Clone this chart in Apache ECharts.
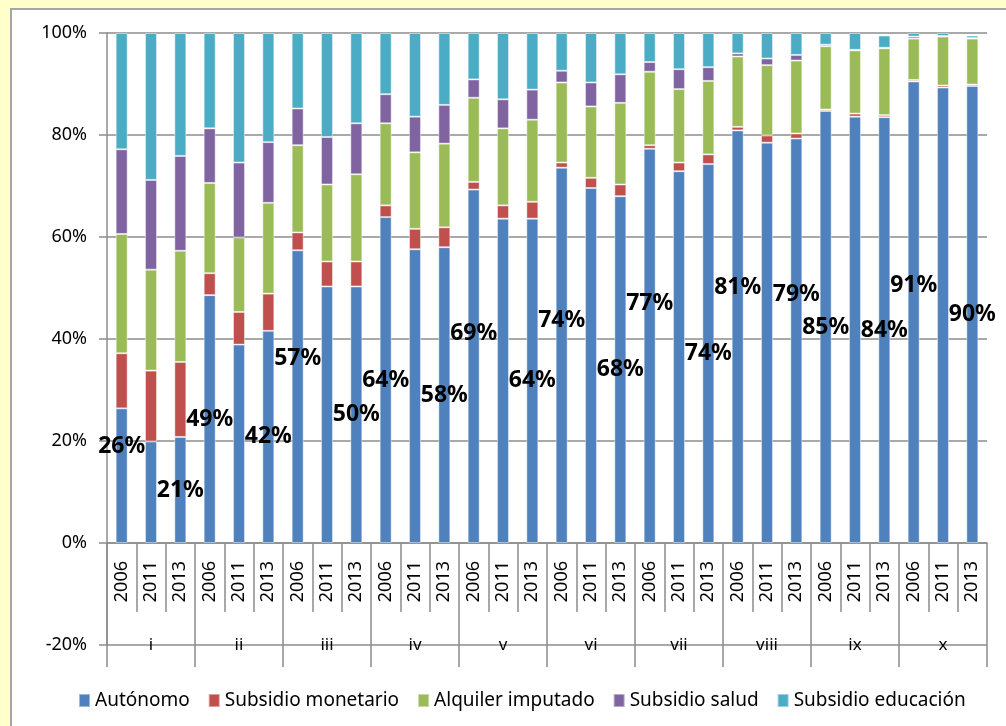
<!DOCTYPE html>
<html>
<head>
<meta charset="utf-8">
<script src="https://cdn.jsdelivr.net/npm/echarts@6/dist/echarts.min.js"></script>
<style>
    html, body { margin: 0; padding: 0; background: #ffffcc; }
    #panel { position: absolute; left: 10px; top: 8px; width: 1010px; height: 730px; background: #fff; border-left: 2px solid #a6a6a6; border-top: 2px solid #a6a6a6; }
    #main { position: absolute; left: 0; top: 0; width: 1006px; height: 726px; }
</style>
</head>
<body>
<div id="panel"></div>
<div id="main"></div>
<script>
// grupos y años (eje de categorías de dos niveles)
const groups = ['i', 'ii', 'iii', 'iv', 'v', 'vi', 'vii', 'viii', 'ix', 'x'];
const years = ['2006', '2011', '2013'];

// porcentaje de cada componente, 30 columnas (grupo x año)
const autonomo = [26.4, 19.9, 20.8, 48.6, 38.9, 41.6, 57.4, 50.3, 50.3, 63.9, 57.6, 58.0, 69.3, 63.6, 63.6,
                  73.6, 69.6, 68.0, 77.3, 72.9, 74.3, 80.9, 78.5, 79.3, 84.7, 83.6, 83.5, 90.5, 89.3, 89.6];
const subsidioMonetario = [10.8, 13.9, 14.7, 4.3, 6.4, 7.3, 3.5, 4.9, 4.9, 2.3, 4.0, 3.9, 1.5, 2.6, 3.3,
                  1.0, 2.0, 2.3, 0.7, 1.7, 1.9, 0.7, 1.4, 1.0, 0.3, 0.6, 0.4, 0.3, 0.4, 0.3];
const alquilerImputado = [23.4, 19.8, 21.8, 17.7, 14.6, 17.8, 17.1, 15.1, 17.1, 16.1, 15.0, 16.4, 16.5, 15.1, 16.1,
                  15.7, 14.0, 16.0, 14.4, 14.4, 14.4, 13.8, 13.8, 14.3, 12.4, 12.4, 13.1, 8.1, 9.6, 9.0];
const subsidioSalud = [16.6, 17.6, 18.6, 10.7, 14.7, 11.9, 7.2, 9.3, 10.0, 5.7, 7.0, 7.6, 3.6, 5.7, 5.9,
                  2.3, 4.7, 5.6, 1.9, 3.9, 2.7, 0.6, 1.3, 1.1, 0.3, 0.1, 0.1, 0.4, 0.1, 0.1];
const subsidioEducacion = [22.8, 28.8, 24.1, 18.7, 25.4, 21.4, 14.8, 20.4, 17.7, 12.0, 16.4, 14.1, 9.1, 13.0, 11.1,
                  7.4, 9.7, 8.1, 5.7, 7.1, 6.7, 4.0, 5.0, 4.3, 2.3, 3.3, 2.4, 0.7, 0.6, 0.5];

// etiquetas movidas a mano en el original (puntos porcentuales por encima del centro)
const labelLift = [5.7, 0, 0, 0, 0, 0, 7.4, 0, 0, 0, 0, 0, 6.4, 0, 0,
                   6.8, 0, 0, 8.3, 0, 0, 9.7, 0, 9.0, 0, 0, 0, 5.2, 0, 0];

const seriesNames = ['Autónomo', 'Subsidio monetario', 'Alquiler imputado', 'Subsidio salud', 'Subsidio educación'];
const colors = ['#4f81bd', '#c0504d', '#9bbb59', '#8064a2', '#4bacc6'];

const categories = [];
groups.forEach(function () { years.forEach(function (y) { categories.push(y); }); });

const gridTop = 33, gridBottom = 81;
const yMin = -20, yMax = 100;
const pxPerPoint = (726 - gridTop - gridBottom) / (yMax - yMin);
const gray = '#8c8c8c';
const font = 'Noto Sans';

// solo 2006 y 2013 llevan etiqueta
const autonomoData = autonomo.map(function (v, i) {
    return {
        value: v,
        label: {
            show: categories[i] !== '2011',
            offset: [0, -labelLift[i] * pxPerPoint]
        }
    };
});

const seriesData = [autonomoData, subsidioMonetario, alquilerImputado, subsidioSalud, subsidioEducacion];

const myChart = echarts.init(document.getElementById('main'));
myChart.setOption({
    animation: false,
    textStyle: { fontFamily: font },
    color: colors,
    legend: {
        top: 686,
        left: 73,
        itemWidth: 11,
        itemHeight: 13,
        itemGap: 18,
        icon: 'rect',
        textStyle: { fontSize: 19, color: '#000', fontFamily: font },
        data: seriesNames
    },
    grid: { left: 107, right: 19, top: gridTop, bottom: gridBottom },
    xAxis: [
        {
            // años: eje subido hasta la línea del 0%
            type: 'category',
            data: categories,
            position: 'bottom',
            offset: -yMin * -pxPerPoint,
            axisLine: { onZero: false, lineStyle: { color: gray, width: 1.5 } },
            axisTick: { show: true, interval: 0, length: 69, lineStyle: { color: gray, width: 1.5 } },
            axisLabel: { interval: 0, rotate: 90, margin: 18, fontSize: 18, color: '#000' }
        },
        {
            type: 'category',
            data: groups,
            position: 'bottom',
            offset: 22,
            axisLine: { show: false, onZero: false },
            axisTick: { show: true, inside: true, interval: 0, length: 124, lineStyle: { color: gray, width: 1.5 } },
            axisLabel: { inside: true, interval: 0, margin: 13, fontSize: 17, color: '#000' }
        }
    ],
    yAxis: {
        type: 'value',
        min: yMin,
        max: yMax,
        interval: 20,
        axisLine: { show: true, lineStyle: { color: gray, width: 1.5 } },
        axisTick: { show: true, length: 8, lineStyle: { color: gray, width: 1.5 } },
        axisLabel: { formatter: '{value}%', fontSize: 18, color: '#000', margin: 20 },
        splitLine: { lineStyle: { color: gray, width: 1.5 } }
    },
    series: seriesData.map(function (d, k) {
        return {
            name: seriesNames[k],
            type: 'bar',
            stack: 'total',
            xAxisIndex: 0,
            barWidth: 12,
            itemStyle: { borderColor: 'rgba(255,255,255,0.45)', borderWidth: 1 },
            label: {
                show: false,
                position: 'inside',
                formatter: function (p) { return Math.round(p.value) + '%'; },
                fontSize: 23,
                fontWeight: 'bold',
                color: '#000'
            },
            data: d
        };
    })
});
</script>
</body>
</html>
